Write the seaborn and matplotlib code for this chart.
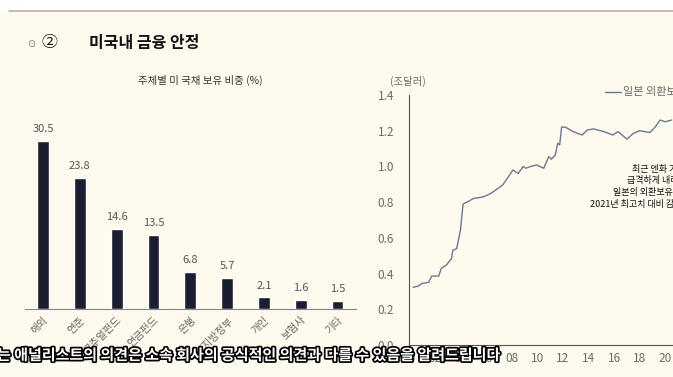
import matplotlib
matplotlib.use("Agg")
import matplotlib.pyplot as plt
import matplotlib.patheffects as pe
from matplotlib.patches import Rectangle
from matplotlib.lines import Line2D
import numpy as np
import pandas as pd
import seaborn as sns

# 주체별 미 국채 보유 비중 (%)
holders = ["해외", "연준", "뮤추얼펀드", "연금펀드", "은행", "주/지방정부", "개인", "보험사", "기타"]
shares = [30.5, 23.8, 14.6, 13.5, 6.8, 5.7, 2.1, 1.6, 1.5]

# 일본 외환보유액 (조달러)
fx_years = [2000.3, 2000.7, 2001.0, 2001.5, 2001.75, 2002.3, 2002.5, 2002.9, 2003.3, 2003.4,
            2003.7, 2004.0, 2004.2, 2004.5, 2005.0, 2005.8, 2006.4, 2007.3, 2008.1, 2008.5,
            2008.9, 2009.1, 2009.5, 2009.95, 2010.5, 2010.9, 2011.1, 2011.4, 2011.6, 2011.75,
            2011.9, 2012.2, 2012.8, 2013.5, 2013.9, 2014.4, 2015.2, 2015.9, 2016.3, 2017.0,
            2017.5, 2018.0, 2018.8, 2019.2, 2019.6, 2020.0, 2020.5]
fx_reserves = [0.323, 0.33, 0.345, 0.35, 0.386, 0.386, 0.43, 0.448, 0.485, 0.53,
               0.54, 0.644, 0.79, 0.80, 0.82, 0.83, 0.85, 0.896, 0.98, 0.96,
               1.0, 0.99, 1.0, 1.008, 0.99, 1.055, 1.04, 1.064, 1.13, 1.12,
               1.22, 1.22, 1.195, 1.176, 1.204, 1.21, 1.195, 1.176, 1.195, 1.153,
               1.185, 1.2, 1.19, 1.22, 1.26, 1.25, 1.26]
year_ticks = list(range(2000, 2023, 2))
note_lines = ["최근 엔화 가치가", "급격하게 내려가면서", "일본의 외환보유액도", "2021년 최고치 대비 감소"]

sns.set_style("white")
plt.rcParams["font.family"] = ["Noto Sans CJK KR", "DejaVu Sans"]

W, H = 673, 377
bg = "#fffaee"
navy = "#1b1d30"
grey = "#6a6a6a"

fig = plt.figure(figsize=(W / 100, H / 100), dpi=100, facecolor=bg)

def fx(px):
    return px / W

def fy(py):
    return 1 - py / H

# top white strip and rule
fig.patches.append(Rectangle((0, fy(11)), 1, 11 / H, transform=fig.transFigure,
                             facecolor="white", edgecolor="none", zorder=0))
fig.lines.append(Line2D([fx(9), 1], [fy(11), fy(11)], transform=fig.transFigure,
                        color="#b8b3aa", lw=1.2))

# heading
fig.text(fx(31), fy(44), "⊙", fontsize=7, color="#777", ha="center", va="center",
         family=["DejaVu Sans"])
fig.text(fx(49), fy(43), "②", fontsize=11.5, color="#111", ha="center", va="center")
fig.text(fx(89), fy(43), "미국내 금융 안정", fontsize=11.5, fontweight="bold",
         color="#111", ha="left", va="center")

# ---- left: bar chart ----
ax1 = fig.add_axes([fx(24.6), fy(309), fx(331.3), (309 - 100) / H])
ax1.set_facecolor("none")
df = pd.DataFrame({"holder": holders, "share": shares})
sns.barplot(data=df, x="holder", y="share", color=navy, width=0.32, saturation=1, ax=ax1)
ax1.bar_label(ax1.containers[0], labels=[f"{v:.1f}" for v in shares], padding=5,
              fontsize=8, color="#555", fontweight="light")
ax1.set_xlim(-0.5, len(holders) - 0.5)
ax1.set_ylim(0, 38)
ax1.set_xlabel("")
ax1.set_ylabel("")
ax1.set_yticks([])
for s in ["top", "right", "left"]:
    ax1.spines[s].set_visible(False)
ax1.spines["bottom"].set_color("#888")
ax1.spines["bottom"].set_linewidth(0.8)
ax1.set_xticks(np.arange(len(holders)))
ax1.set_xticklabels(holders, rotation=45, ha="right", rotation_mode="anchor",
                    fontsize=7.5, color="#666", fontweight="light")
ax1.tick_params(axis="x", which="major", length=0, pad=4)
ax1.set_xticks(np.arange(-0.5, len(holders)), minor=True)
ax1.tick_params(axis="x", which="minor", length=3, width=0.7, color="#888", direction="out")
fig.text(fx(200), fy(80), "주체별 미 국채 보유 비중 (%)", fontsize=7.5, color="#333",
         ha="center", va="center")

# ---- right: line chart ----
ax2 = fig.add_axes([fx(409.3), fy(345), fx(23 * 12.8), 250 / H])
ax2.set_facecolor("none")
sns.lineplot(x=fx_years, y=fx_reserves, color="#6b7891", lw=1.0, ax=ax2)
ax2.set_xlim(2000, 2023)
ax2.set_ylim(0, 1.4)
ax2.set_yticks(np.arange(0, 1.41, 0.2))
ax2.set_yticklabels([f"{v:.1f}" for v in np.arange(0, 1.41, 0.2)], fontsize=8.5,
                    color=grey, fontweight="light")
ax2.set_xticks(year_ticks)
ax2.set_xticklabels([f"{y % 100:02d}" for y in year_ticks], fontsize=8.5, color=grey,
                    fontweight="light")
ax2.tick_params(axis="y", length=6, width=0.7, color="#555", direction="inout", pad=8)
ax2.tick_params(axis="x", length=3, width=0.7, color="#555", direction="in", pad=5)
for s in ["top", "right"]:
    ax2.spines[s].set_visible(False)
for s in ["left", "bottom"]:
    ax2.spines[s].set_color("#555")
    ax2.spines[s].set_linewidth(0.8)
ax2.set_xlabel("")
ax2.set_ylabel("")
fig.text(fx(390), fy(81), "(조달러)", fontsize=7.5, color=grey, ha="left", va="center",
         fontweight="light")

# legend
fig.lines.append(Line2D([fx(605), fx(621)], [fy(92), fy(92)], transform=fig.transFigure,
                        color="#6b7891", lw=1.0))
fig.text(fx(623), fy(92), "일본 외환보유액", fontsize=8, color=grey, ha="left", va="center",
         fontweight="light")

# note
note_x = [632, 627, 613, 590]
note_y = [170, 181, 192, 204]
for t, x, y in zip(note_lines, note_x, note_y):
    fig.text(fx(x), fy(y), t, fontsize=6.5, color="#111", ha="left", va="center")

# subtitle overlay
fig.text(fx(-3), fy(355), "는 애널리스트의 의견은 소속 회사의 공식적인 의견과 다를 수 있음을 알려드립니다",
         fontsize=10.8, fontweight="heavy", color="white", ha="left", va="center",
         path_effects=[pe.withStroke(linewidth=2.5, foreground="black")], zorder=10)

fig.savefig("out.png", dpi=100, facecolor=bg)
